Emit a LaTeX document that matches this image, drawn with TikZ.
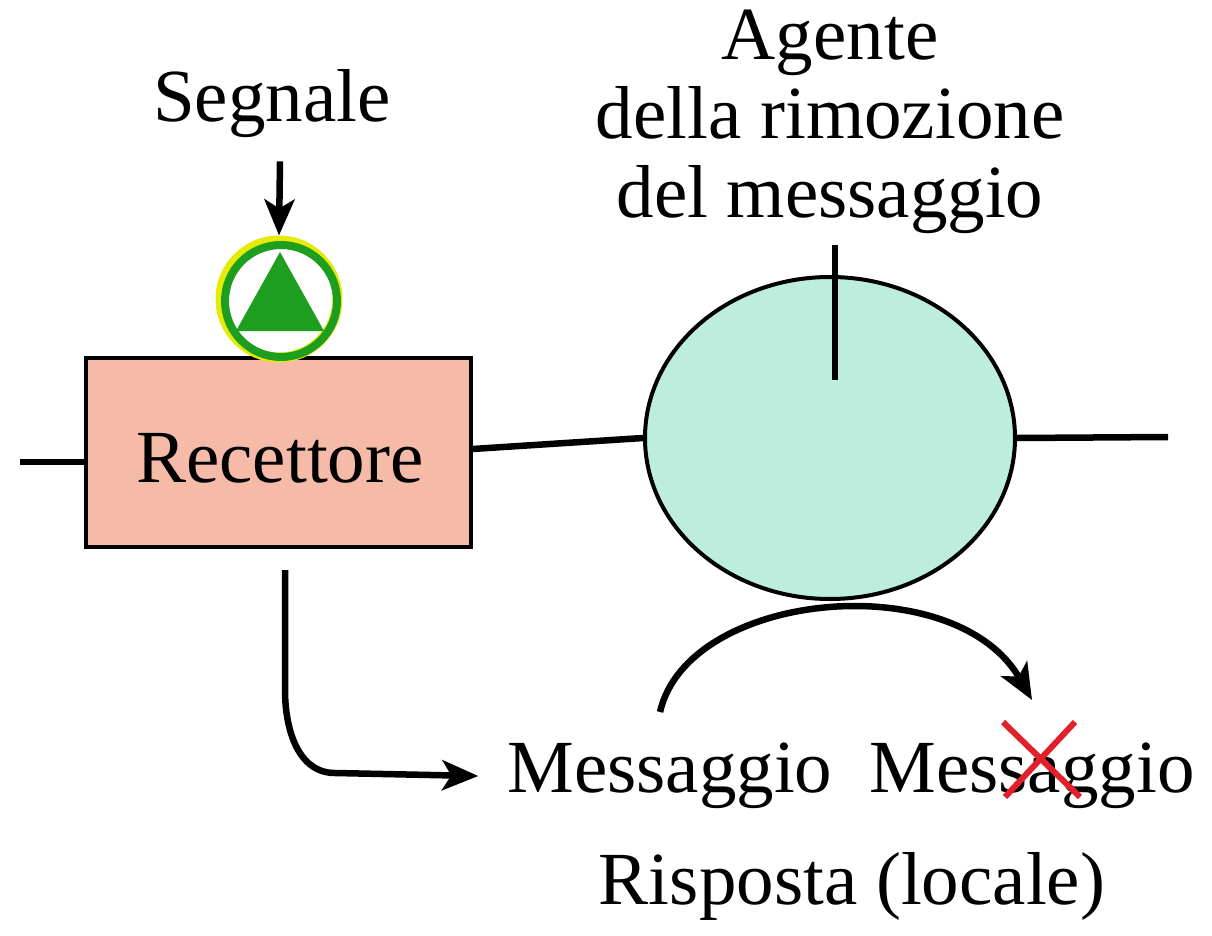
\documentclass[tikz,border=0pt]{standalone}
\usepackage{fontspec}
\setmainfont{Liberation Serif}
\usetikzlibrary{arrows.meta,shapes.geometric}
\definecolor{salmon}{HTML}{F6BBA8}
\definecolor{mint}{HTML}{BDEEDD}
\definecolor{sgreen}{HTML}{1E9E1E}
\definecolor{xred}{HTML}{E2202C}
\begin{document}
\begin{tikzpicture}[x=1pt,y=-1pt,line width=6.5pt,
  lbl/.style={font=\fontsize{75}{79}\selectfont,inner sep=0pt},
  arr/.style={-{Stealth[length=36pt,width=30pt,inset=9pt]}}]
\useasboundingbox (0,0) rectangle (1212,936);
% membrane pieces
\node[draw,line width=4pt,fill=salmon,minimum width=385pt,minimum height=189pt,inner sep=0pt] (rec) at (278,452) {};
\node[lbl] (recl) at (280,458) {Recettore};
\node[ellipse,draw,line width=4pt,fill=mint,minimum width=370pt,minimum height=322pt,inner sep=0pt] (ag) at (830,438) {};
\coordinate (L) at (20,462);
\coordinate (R) at (1168,437);
\draw (L) -- (L -| rec.west);
\draw ([yshift=3pt]rec.east) -- (ag.west);
\draw (ag.east) -- (R);
% signal receptor site
\node[circle,draw=yellow!90!green,line width=10pt,minimum size=117pt,inner sep=0pt] (site) at (279,299) {};
\node[circle,draw=sgreen,line width=8pt,minimum size=112pt,inner sep=0pt] (site2) at (281,301) {};
\fill[sgreen] (280,252) -- (324,331) -- (236,331) -- cycle;
\node[lbl] (seg) at (272,104) {Segnale};
\draw[arr] (seg.south) ++(8,20) -- (site.north);
% agent label
\node[lbl,align=center] (agt) at (830,122) {Agente\\della rimozione\\del messaggio};
\coordinate (agIn) at (835,380);
\draw (agt.south -| agIn) ++(0,8) -- (agIn);
% messages
\node[lbl] (m1) at (670,776) {Messaggio};
\node[lbl] (m2) at (1032,776) {Messaggio};
\node[lbl] (risp) at (852,886) {Risposta (locale)};
\coordinate (c1) at (285,570);
\draw[arr] (c1) -- (285,690) to[out=-90,in=180] (335,773) -- ([xshift=-26pt]m1.west);
\coordinate (a1) at (660,712);
\coordinate (a2) at (1032,700);
\draw[arr] (a1) .. controls (688,590) and (955,566) .. (a2);
% red cross
\draw[xred,line width=6pt] (1003,722) -- (1080,797);
\draw[xred,line width=6pt] (1075,722) -- (1005,797);
\end{tikzpicture}
\end{document}
